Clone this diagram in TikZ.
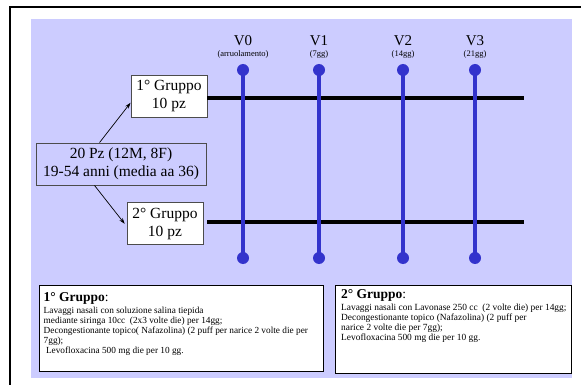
\documentclass[tikz,border=0pt]{standalone}
\usepackage{fontspec}
\setmainfont{Liberation Serif}
\usetikzlibrary{arrows.meta}
\definecolor{bgblue}{RGB}{204,204,255}
\definecolor{visit}{RGB}{51,51,204}
\begin{document}
\begin{tikzpicture}[x=1pt,y=-1pt,
  grp/.style={draw=black!70, line width=0.9pt, fill=white, minimum width=76pt, minimum height=42pt, inner sep=0pt, align=center, font=\fontsize{15.5}{18}\selectfont},
  pzbox/.style={draw=black!70, line width=0.9pt, fill=bgblue, minimum width=170pt, minimum height=42pt, inner sep=0pt, align=center, font=\fontsize{15.5}{18}\selectfont},
  vlab/.style={inner sep=0pt, font=\fontsize{15}{18}\selectfont},
  vsub/.style={inner sep=0pt, font=\fontsize{8.5}{10}\selectfont},
  visitline/.style={draw=visit, line width=4pt},
  dot/.style={fill=visit},
  grpline/.style={draw=black, line width=4pt},
  arr/.style={draw=black, line width=0.7pt, -{Stealth[length=6pt,width=4pt]}},
  panel/.style={draw=black, line width=1.2pt, fill=white, inner sep=0pt},
  paneltext/.style={inner sep=0pt, align=left, font=\fontsize{9.3}{10}\selectfont}
]
\useasboundingbox (0,0) rectangle (581,385);
% outer frame (only top and left edges visible)
\coordinate (fa) at (10,400);
\coordinate (fb) at (10,7);
\coordinate (fc) at (600,7);
\draw[line width=2pt, black] (fa) -- (fb) -- (fc);
% background
\fill[bgblue] (31,19) rectangle (572,378);

% group boxes
\node[grp] (g1) at (169,96) {1° Gruppo\\10 pz};
\node[pzbox] (pz) at (121,164) {20 Pz (12M, 8F)\\19-54 anni (media aa 36)};
\node[grp] (g2) at (165,223.5) {2° Gruppo\\10 pz};

\draw[arr] (pz.135) -- (g1.190);
\draw[arr, shorten >=3pt] (pz.219) -- (g2.184);

% group lines
\coordinate (l1a) at (207,98);
\coordinate (l1b) at (524,98);
\coordinate (l2a) at (207,222);
\coordinate (l2b) at (524,222);
\draw[grpline] (l1a) -- (l1b);
\draw[grpline] (l2a) -- (l2b);

% visits
\foreach \n/\x/\lab/\sub in {0/243/V0/(arruolamento), 1/319/V1/(7gg), 2/403/V2/(14gg), 3/475/V3/(21gg)}{
  \node[vlab] (v\n) at (\x,40.5) {\lab};
  \node[vsub] (vs\n) at (\x,54) {\sub};
  \coordinate (vt\n) at (\x,70);
  \coordinate (vb\n) at (\x,258);
  \draw[visitline] (vt\n) -- (vb\n);
  \fill[dot] (vt\n) circle (6pt);
  \fill[dot] (vb\n) circle (6pt);
}

% bottom panels
\node[panel, minimum width=284pt, minimum height=86pt, anchor=north west] (b1) at (39,285) {};
\node[paneltext, anchor=north west] (t1) at (43.5,292) {{\fontsize{13.5}{15}\selectfont\textbf{1° Gruppo}:}\\[2pt]
Lavaggi nasali con soluzione salina tiepida\\
mediante siringa 10cc~ (2x3 volte die) per 14gg;\\
Decongestionante topico( Nafazolina) (2 puff per narice 2 volte die per\\
7gg);\\
~Levofloxacina 500 mg die per 10 gg.};

\node[panel, minimum width=236pt, minimum height=88pt, anchor=north west] (b2) at (335,285) {};
\node[paneltext, anchor=north west, font=\fontsize{9.4}{10.2}\selectfont] (t2) at (341,289) {{\fontsize{13.5}{15}\selectfont\textbf{2° Gruppo}:}\\[2pt]
Lavaggi nasali con Lavonase 250 cc~ (2 volte die) per 14gg;\\
Decongestionante topico (Nafazolina) (2 puff per\\
narice 2 volte die per 7gg);\\
Levofloxacina 500 mg die per 10 gg.};
\end{tikzpicture}
\end{document}
